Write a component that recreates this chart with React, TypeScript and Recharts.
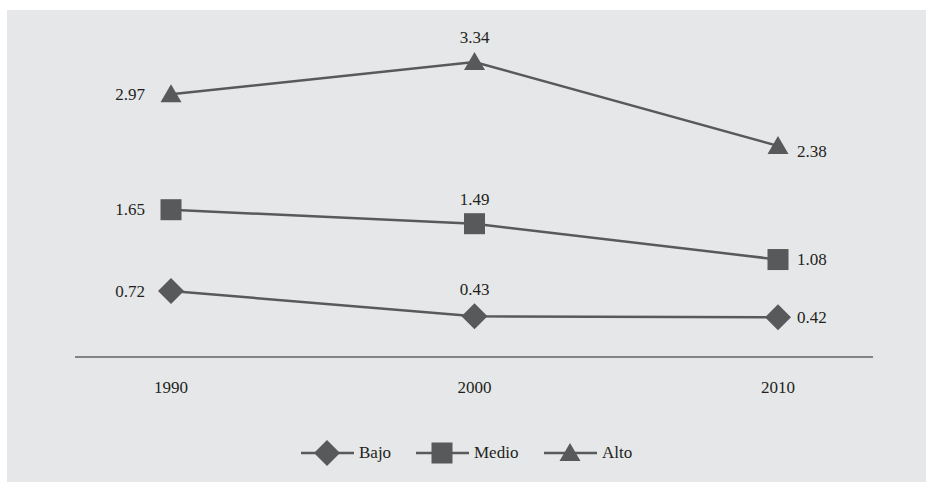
import React from 'react';
import { LineChart, Line, XAxis, YAxis, LabelList } from 'recharts';

const years = ['1990', '2000', '2010'];
const bajo = [0.72, 0.43, 0.42];
const medio = [1.65, 1.49, 1.08];
const alto = [2.97, 3.34, 2.38];

const data = years.map((year, i) => ({
  year,
  bajo: bajo[i],
  medio: medio[i],
  alto: alto[i],
}));

const MARK = '#58595b';
const TEXT = '#231f20';
const FONT = '"Liberation Serif", "Times New Roman", serif';

const Diamond = ({ cx, cy, r = 13 }: any) => (
  <path d={`M${cx},${cy - r}L${cx + r},${cy}L${cx},${cy + r}L${cx - r},${cy}Z`} fill={MARK} />
);
const Square = ({ cx, cy, s = 21 }: any) => (
  <rect x={cx - s / 2} y={cy - s / 2} width={s} height={s} fill={MARK} />
);
const Triangle = ({ cx, cy }: any) => (
  <path d={`M${cx},${cy - 10}L${cx + 10.5},${cy + 8}L${cx - 10.5},${cy + 8}Z`} fill={MARK} />
);

// label placement: first point to the left, middle above, last to the right
const makeLabel = (aboveDy: number, lastDy: number) => (props: any) => {
  const { x, y, value, index } = props;
  let tx = x;
  let ty = y;
  let anchor: 'start' | 'middle' | 'end' = 'middle';
  if (index === 0) {
    tx = x - 26;
    anchor = 'end';
  } else if (index === 1) {
    ty = y + aboveDy;
  } else {
    tx = x + 19;
    ty = y + lastDy;
    anchor = 'start';
  }
  return (
    <text
      x={tx}
      y={ty}
      textAnchor={anchor}
      dominantBaseline='central'
      fill={TEXT}
      fontSize={17}
      fontFamily={FONT}
    >
      {value.toFixed(2)}
    </text>
  );
};

// legend items, left = start of the sample line inside the grey panel
const legendItems = [
  { name: 'Bajo', Icon: Diamond, left: 294 },
  { name: 'Medio', Icon: Square, left: 409 },
  { name: 'Alto', Icon: Triangle, left: 537 },
];

export default function App() {
  return (
    <div style={{ position: 'fixed', left: 0, top: 0, width: 926, height: 482, background: '#fff', overflow: 'hidden' }}>
      <div style={{ position: 'absolute', left: 7, top: 10, width: 919, height: 472, background: '#e6e7e8' }}>
        <LineChart
          width={919}
          height={472}
          data={data}
          margin={{ top: 38, right: 53, left: 68, bottom: 85 }}
        >
          <XAxis
            dataKey='year'
            padding={{ left: 96, right: 95 }}
            tickLine={false}
            tickSize={0}
            tickMargin={24}
            height={40}
            axisLine={{ stroke: TEXT, strokeWidth: 1.2 }}
            tick={{ fill: TEXT, fontSize: 17, fontFamily: FONT }}
          />
          <YAxis hide domain={[-0.035, 3.5]} />
          <Line
            dataKey='bajo'
            stroke={MARK}
            strokeWidth={2.5}
            isAnimationActive={false}
            dot={(p: any) => <Diamond key={p.index} cx={p.cx} cy={p.cy} />}
          >
            <LabelList dataKey='bajo' content={makeLabel(-27, 0)} />
          </Line>
          <Line
            dataKey='medio'
            stroke={MARK}
            strokeWidth={2.5}
            isAnimationActive={false}
            dot={(p: any) => <Square key={p.index} cx={p.cx} cy={p.cy} />}
          >
            <LabelList dataKey='medio' content={makeLabel(-24, 0)} />
          </Line>
          <Line
            dataKey='alto'
            stroke={MARK}
            strokeWidth={2.5}
            isAnimationActive={false}
            dot={(p: any) => <Triangle key={p.index} cx={p.cx} cy={p.cy} />}
          >
            <LabelList dataKey='alto' content={makeLabel(-24, 6)} />
          </Line>
        </LineChart>

        {/* legend */}
        {legendItems.map(({ name, Icon, left }) => (
          <div
            key={name}
            style={{
              position: 'absolute',
              left,
              top: 428,
              display: 'flex',
              alignItems: 'center',
              fontFamily: FONT,
              fontSize: 17,
              color: TEXT,
            }}
          >
            <svg width={53} height={30} style={{ display: 'block' }}>
              <line x1={0} y1={15} x2={53} y2={15} stroke={MARK} strokeWidth={2.5} />
              <Icon cx={26} cy={15} />
            </svg>
            <span style={{ marginLeft: 5 }}>{name}</span>
          </div>
        ))}
      </div>
    </div>
  );
}
